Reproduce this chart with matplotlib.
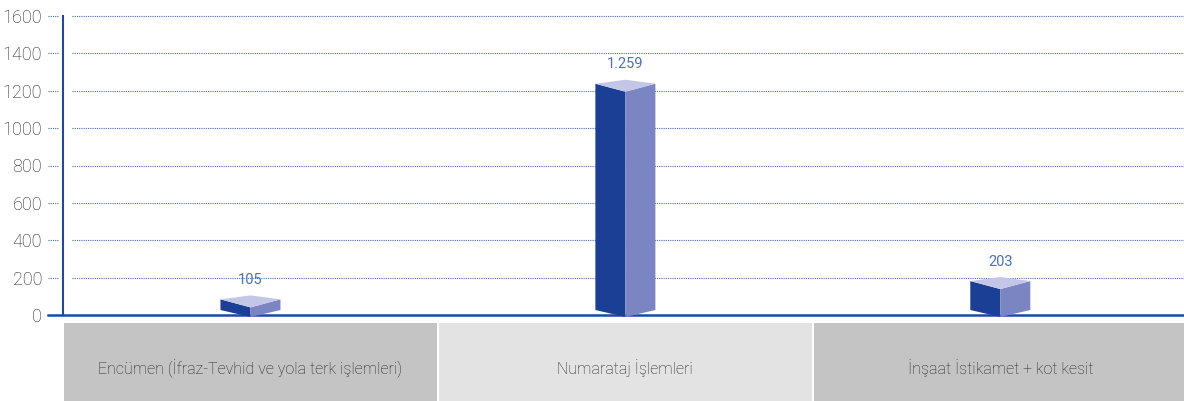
import matplotlib.pyplot as plt
from matplotlib.patches import Polygon
from matplotlib.transforms import blended_transform_factory

plt.rcParams['font.family'] = ['Roboto', 'DejaVu Sans']

categories = ['Encümen (İfraz-Tevhid ve yola terk işlemleri)',
              'Numarataj İşlemleri',
              'İnşaat İstikamet + kot kesit']
values = [105, 1259, 203]
value_labels = ['105', '1.259', '203']
yticks = [0, 200, 400, 600, 800, 1000, 1200, 1400, 1600]

blue = '#1d4a9e'
grid_blue = '#4a68b4'
left_face = '#1b3f95'
right_face = '#7b85c1'
top_face = '#c4c6e7'
box_colors = ['#c4c4c4', '#e3e3e3', '#c4c4c4']

W, H = 1184, 401
fig = plt.figure(figsize=(W / 100, H / 100), dpi=100)
ax = fig.add_axes([63 / W, (H - 315) / H, 1 - 63 / W, (315 - 16) / H])
ax.set_xlim(-0.5, 2.49)
ax.set_ylim(0, 1600)

px = 1600 / 299   # one pixel in data units
half_w = 30 / 375

# dotted gridlines, with a short piece left of the axis line
trans = blended_transform_factory(ax.transAxes, ax.transData)
for t in yticks[1:]:
    ax.plot([0.008, 1], [t, t], transform=trans, color=grid_blue,
            lw=0.8, ls=(0, (1, 1)), clip_on=False, zorder=1)
    ax.plot([-15 / 1121, -5 / 1121], [t, t], transform=trans, color=grid_blue,
            lw=0.8, ls=(0, (1, 1)), clip_on=False, zorder=1)
ax.plot([-15 / 1121, 1], [0, 0], transform=trans, color=blue, lw=1.8,
        clip_on=False, zorder=2)

for s in ['top', 'right', 'bottom']:
    ax.spines[s].set_visible(False)
ax.spines['left'].set_color(blue)
ax.spines['left'].set_linewidth(1.5)
ax.set_xticks([])
ax.set_yticks(yticks)
ax.tick_params(axis='y', length=0, pad=15, labelsize=13, labelcolor='#222222')
for lab in ax.get_yticklabels():
    lab.set_fontweight('light')

# 3d looking boxes
for i, v in enumerate(values):
    back = v
    side_top = v - 4 * px
    front_top = v - 12 * px
    side_bot = 5 * px
    front_bot = -2 * px
    ax.add_patch(Polygon([(i - half_w, side_top), (i, front_top), (i, front_bot),
                          (i - half_w, side_bot)], closed=True, fc=left_face,
                         ec='none', clip_on=False, zorder=3))
    ax.add_patch(Polygon([(i, front_top), (i + half_w, side_top), (i + half_w, side_bot),
                          (i, front_bot)], closed=True, fc=right_face,
                         ec='none', clip_on=False, zorder=3))
    ax.add_patch(Polygon([(i - half_w, side_top), (i, back), (i + half_w, side_top),
                          (i, front_top)], closed=True, fc=top_face,
                         ec='none', clip_on=False, zorder=3))
    ax.annotate(value_labels[i], (i, back), xytext=(0, 6), textcoords='offset points',
                ha='center', va='bottom', fontsize=10.5, color='#4d70b8')

# category boxes under the axis
ax2 = fig.add_axes([63 / W, 0, 1 - 63 / W, (401 - 323) / H])
ax2.set_xlim(-0.5, 2.49)
ax2.set_ylim(0, 1)
ax2.bar(range(3), [1] * 3, width=373 / 375, color=box_colors)
for i, c in enumerate(categories):
    ax2.text(i, 0.42, c, ha='center', va='center', fontsize=11.5, color='#222222',
             fontweight='light')
ax2.axis('off')

plt.savefig('out.png', dpi=100)
